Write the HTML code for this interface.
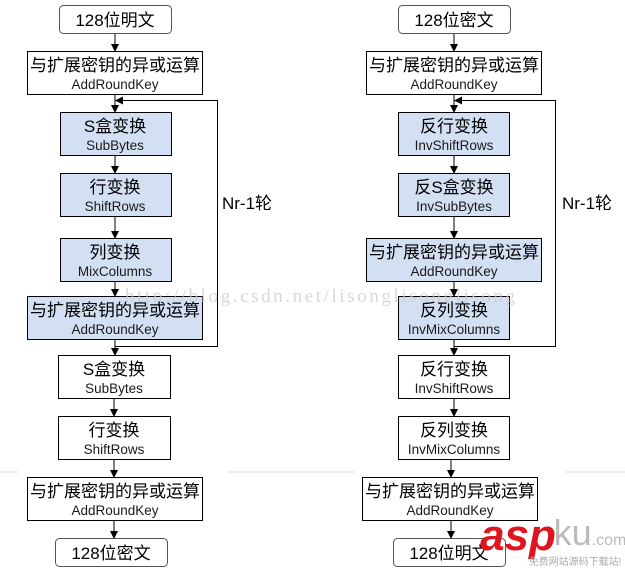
<!DOCTYPE html>
<html><head><meta charset="utf-8"><style>
html,body{margin:0;padding:0;background:#fff;}
svg text{font-family:"Liberation Sans","Noto Sans CJK SC",sans-serif;text-anchor:middle;fill:#000;}
.c{font-size:17px}.e{font-size:13.5px;fill:#1a1a1a}
</style></head><body>
<svg width="625" height="571" viewBox="0 0 625 571" xmlns="http://www.w3.org/2000/svg">
<defs><marker id="a" markerWidth="8" markerHeight="8" refX="7" refY="4" orient="auto" markerUnits="userSpaceOnUse"><path d="M0,0 L8,4 L0,8 z" fill="#000"/></marker></defs>
<line x1="0" y1="472" x2="18" y2="472" stroke="#ddd"/><line x1="228" y1="472" x2="355" y2="472" stroke="#ddd"/><line x1="565" y1="472" x2="625" y2="472" stroke="#ddd"/>
<g stroke="#000" stroke-width="1" fill="none">
<rect x="59.5" y="5.5" width="112" height="28" rx="4" stroke="#555"/>
<rect x="27.5" y="51.5" width="175" height="43" fill="#fff"/>
<rect x="60.5" y="112.5" width="111" height="43" fill="#d3dff2"/>
<rect x="60.5" y="173.5" width="111" height="43" fill="#d3dff2"/>
<rect x="60.5" y="238.5" width="111" height="43" fill="#d3dff2"/>
<rect x="27.5" y="296.5" width="175" height="43" fill="#d3dff2"/>
<rect x="58.5" y="355.5" width="112" height="43" fill="#fff"/>
<rect x="58.5" y="416.5" width="112" height="43" fill="#fff"/>
<rect x="27.5" y="477.5" width="175" height="43" fill="#fff"/>
<rect x="55.5" y="538.5" width="112" height="28" rx="4" stroke="#555"/>
<line x1="115" y1="34" x2="115" y2="51" marker-end="url(#a)"/>
<line x1="115" y1="95" x2="115" y2="112" marker-end="url(#a)"/>
<line x1="115" y1="156" x2="115" y2="173" marker-end="url(#a)"/>
<line x1="115" y1="217" x2="115" y2="238" marker-end="url(#a)"/>
<line x1="115" y1="282" x2="115" y2="296" marker-end="url(#a)"/>
<line x1="115" y1="340" x2="115" y2="355" marker-end="url(#a)"/>
<line x1="114" y1="399" x2="114" y2="416" marker-end="url(#a)"/>
<line x1="114" y1="460" x2="114" y2="477" marker-end="url(#a)"/>
<line x1="114" y1="521" x2="114" y2="538" marker-end="url(#a)"/>
<polyline points="115.5,346.5 217.5,346.5 217.5,100.5 116,100.5" marker-end="url(#a)"/>
<rect x="398.5" y="5.5" width="112" height="28" rx="4" stroke="#555"/>
<rect x="366.5" y="51.5" width="175" height="43" fill="#fff"/>
<rect x="398.5" y="112.5" width="111" height="43" fill="#d3dff2"/>
<rect x="398.5" y="173.5" width="111" height="43" fill="#d3dff2"/>
<rect x="366.5" y="238.5" width="175" height="43" fill="#d3dff2"/>
<rect x="398.5" y="296.5" width="111" height="43" fill="#d3dff2"/>
<rect x="398.5" y="355.5" width="111" height="43" fill="#fff"/>
<rect x="398.5" y="416.5" width="111" height="43" fill="#fff"/>
<rect x="362.5" y="477.5" width="175" height="43" fill="#fff"/>
<rect x="393.5" y="538.5" width="112" height="28" rx="4" stroke="#555"/>
<line x1="454" y1="34" x2="454" y2="51" marker-end="url(#a)"/>
<line x1="454" y1="95" x2="454" y2="112" marker-end="url(#a)"/>
<line x1="454" y1="156" x2="454" y2="173" marker-end="url(#a)"/>
<line x1="454" y1="217" x2="454" y2="238" marker-end="url(#a)"/>
<line x1="454" y1="282" x2="454" y2="296" marker-end="url(#a)"/>
<line x1="454" y1="340" x2="454" y2="355" marker-end="url(#a)"/>
<line x1="454" y1="399" x2="454" y2="416" marker-end="url(#a)"/>
<line x1="451" y1="460" x2="451" y2="477" marker-end="url(#a)"/>
<line x1="451" y1="521" x2="451" y2="538" marker-end="url(#a)"/>
<polyline points="454.5,346.5 555.5,346.5 555.5,100.5 455,100.5" marker-end="url(#a)"/>
</g>
<g>
<text x="125" y="302" textLength="390" style="text-anchor:start;font-family:'Liberation Serif',serif;font-size:19px;fill:#ccc;opacity:0.75">http://blog.csdn.net/lisonglisonglisong</text>
<text class="c" x="115" y="26">128位明文</text>
<text class="c" x="115" y="71">与扩展密钥的异或运算</text><text class="e" x="115" y="89">AddRoundKey</text>
<text class="c" x="115" y="132">S盒变换</text><text class="e" x="115" y="150">SubBytes</text>
<text class="c" x="115" y="193">行变换</text><text class="e" x="115" y="211">ShiftRows</text>
<text class="c" x="115" y="258">列变换</text><text class="e" x="115" y="276">MixColumns</text>
<text class="c" x="115" y="316">与扩展密钥的异或运算</text><text class="e" x="115" y="334">AddRoundKey</text>
<text class="c" x="114" y="375">S盒变换</text><text class="e" x="114" y="393">SubBytes</text>
<text class="c" x="114" y="436">行变换</text><text class="e" x="114" y="454">ShiftRows</text>
<text class="c" x="115" y="497">与扩展密钥的异或运算</text><text class="e" x="115" y="515">AddRoundKey</text>
<text class="c" x="111" y="559">128位密文</text>
<text class="c" x="247" y="209">Nr-1轮</text>
<text class="c" x="454" y="26">128位密文</text>
<text class="c" x="454" y="71">与扩展密钥的异或运算</text><text class="e" x="454" y="89">AddRoundKey</text>
<text class="c" x="454" y="132">反行变换</text><text class="e" x="454" y="150">InvShiftRows</text>
<text class="c" x="454" y="193">反S盒变换</text><text class="e" x="454" y="211">InvSubBytes</text>
<text class="c" x="454" y="258">与扩展密钥的异或运算</text><text class="e" x="454" y="276">AddRoundKey</text>
<text class="c" x="454" y="316">反列变换</text><text class="e" x="454" y="334">InvMixColumns</text>
<text class="c" x="454" y="375">反行变换</text><text class="e" x="454" y="393">InvShiftRows</text>
<text class="c" x="454" y="436">反列变换</text><text class="e" x="454" y="454">InvMixColumns</text>
<text class="c" x="450" y="497">与扩展密钥的异或运算</text><text class="e" x="450" y="515">AddRoundKey</text>
<text class="c" x="449" y="559">128位明文</text>
<text class="c" x="587" y="209">Nr-1轮</text>
<text x="518" y="550" style="font-size:44px;font-weight:bold;font-style:italic;fill:#e0141e">asp</text>
<text x="590" y="545" style="font-size:36px;fill:#bbb">ku<tspan style="font-size:16px">.com</tspan></text>
<text x="575" y="565" style="font-size:10px;fill:#aaa">免费网站源码下载站!</text>
</g>
</svg>
</body></html>
